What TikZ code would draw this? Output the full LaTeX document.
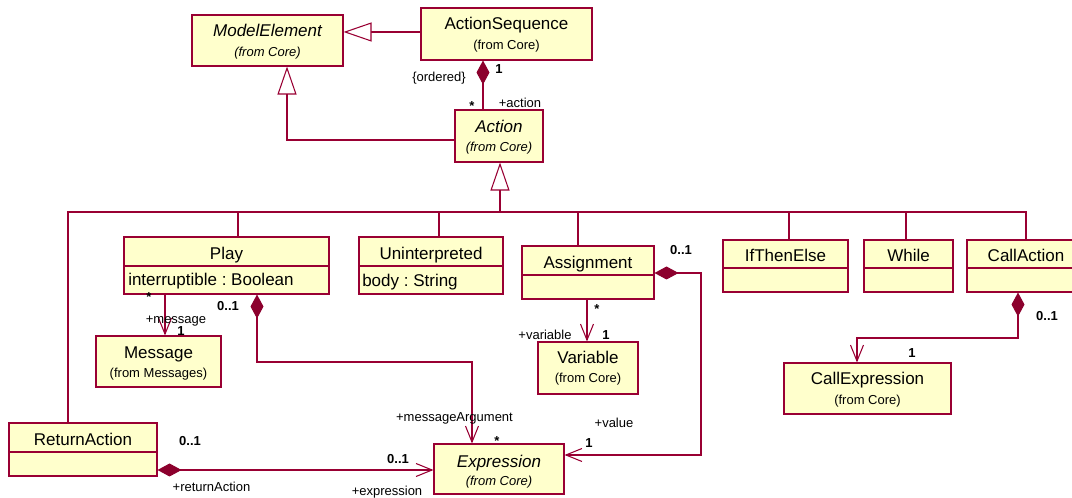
\documentclass[tikz,border=0pt]{standalone}
\usepackage{fontspec}
\setmainfont{Liberation Sans}
\usetikzlibrary{arrows.meta,fit}
\definecolor{umlred}{RGB}{153,0,51}
\definecolor{umlfill}{RGB}{255,255,204}
\definecolor{umldia}{RGB}{140,0,45}
\frenchspacing
\begin{document}
\begin{tikzpicture}[x=0.75pt,y=-0.75pt,
  cls/.style={draw=umlred, fill=umlfill, line width=0.8pt, inner sep=0pt},
  nm/.style={inner sep=0pt, text height=9.2pt, text depth=0pt, font=\fontsize{12.75}{15}\selectfont},
  nmi/.style={inner sep=0pt, text height=9.2pt, text depth=0pt, font=\fontsize{12.75}{15}\selectfont\itshape},
  fc/.style={inner sep=0pt, text height=7pt, text depth=0pt, font=\fontsize{9.75}{12}\selectfont},
  fci/.style={inner sep=0pt, text height=7pt, text depth=0pt, font=\fontsize{9.75}{12}\selectfont\itshape},
  lbl/.style={inner sep=0pt, text height=7pt, text depth=0pt, font=\fontsize{9.75}{12}\selectfont},
  mul/.style={inner sep=0pt, text height=7pt, text depth=0pt, font=\fontsize{9.75}{12}\selectfont\bfseries},
  conn/.style={draw=umlred, line width=0.8pt},
  gen/.style={conn, -{Triangle[open, length=21pt, width=14.25pt, fill=white]}},
  comp/.style={conn, {Diamond[length=18pt, width=9.75pt, color=umldia, fill=umldia]}-},
  nav/.style={conn, -{Straight Barb[length=12pt, width=9.75pt]}},
  compnav/.style={conn, {Diamond[length=18pt, width=9.75pt, color=umldia, fill=umldia]}-{Straight Barb[length=12pt, width=9.75pt]}},
  divl/.style={draw=umlred, line width=0.8pt}
]
\useasboundingbox (0,0) rectangle (1072,498);
\clip (0,0) rectangle (1072,498);

% ---------- classes ----------
\node[cls, fit={(192,15) (343,66)}] (modelelement) {};
\node[nmi] (modelelement-n) at (267.5,30) {ModelElement};
\node[fci] (modelelement-f) at (267.5,52) {(from Core)};

\node[cls, fit={(421,8) (592,60)}] (actionseq) {};
\node[nm] (actionseq-n) at (506.5,23) {ActionSequence};
\node[fc] (actionseq-f) at (506.5,45) {(from Core)};

\node[cls, fit={(455,110) (543,162)}] (action) {};
\node[nmi] (action-n) at (499,126) {Action};
\node[fci] (action-f) at (499,147) {(from Core)};

\node[cls, fit={(124,237) (329,294)}] (play) {};
\draw[divl] (play.west |- 0,266) -- (play.east |- 0,266);
\node[nm] (play-n) at (226.5,253) {Play};
\node[nm, anchor=west] (play-a) at (128,279) {interruptible : Boolean};

\node[cls, fit={(359,237) (503,294)}] (uninterp) {};
\draw[divl] (uninterp.west |- 0,266) -- (uninterp.east |- 0,266);
\node[nm] (uninterp-n) at (431,253) {Uninterpreted};
\node[nm, anchor=west] (uninterp-a) at (362,280) {body : String};

\node[cls, fit={(522,246) (654,299)}] (assign) {};
\draw[divl] (assign.west |- 0,275) -- (assign.east |- 0,275);
\node[nm] (assign-n) at (588,262) {Assignment};

\node[cls, fit={(723,240) (848,292)}] (ifthen) {};
\draw[divl] (ifthen.west |- 0,268) -- (ifthen.east |- 0,268);
\node[nm] (ifthen-n) at (785.5,255) {IfThenElse};

\node[cls, fit={(864,240) (953,292)}] (while) {};
\draw[divl] (while.west |- 0,268) -- (while.east |- 0,268);
\node[nm] (while-n) at (908.5,255) {While};

\node[cls, fit={(967,240) (1085,292)}] (callaction) {};
\draw[divl] (callaction.west |- 0,268) -- (callaction.east |- 0,268);
\node[nm] (callaction-n) at (1026,255) {CallAction};

\node[cls, fit={(96,336) (221,387)}] (message) {};
\node[nm] (message-n) at (158.5,352) {Message};
\node[fc] (message-f) at (158.5,373) {(from Messages)};

\node[cls, fit={(538,342) (638,394)}] (variable) {};
\node[nm] (variable-n) at (588,357) {Variable};
\node[fc] (variable-f) at (588,378) {(from Core)};

\node[cls, fit={(784,363) (951,414)}] (callexpr) {};
\node[nm] (callexpr-n) at (867.5,378) {CallExpression};
\node[fc] (callexpr-f) at (867.5,400) {(from Core)};

\node[cls, fit={(9,423) (157,476)}] (returnaction) {};
\draw[divl] (returnaction.west |- 0,452) -- (returnaction.east |- 0,452);
\node[nm] (returnaction-n) at (83,439) {ReturnAction};

\node[cls, fit={(434,444) (564,494)}] (expression) {};
\node[nmi] (expression-n) at (499,461) {Expression};
\node[fci] (expression-f) at (499,481) {(from Core)};

% ---------- connectors ----------
\draw[gen] (actionseq.west |- 0,32) -- (modelelement.east |- 0,32);
\draw[comp] (actionseq.south -| 483,0) -- (action.north -| 483,0);
\draw[gen] (action.west |- 0,140) -- (287,140) -- (modelelement.south -| 287,0);

\coordinate (bus) at (500,212);
\draw[gen] (bus) -- (action.south -| bus);
\draw[conn] (returnaction.north -| 68,0) -- (68,212) -- (1026,212) -- (callaction.north -| 1026,0);
\draw[conn] (238,212) -- (play.north -| 238,0);
\draw[conn] (439,212) -- (uninterp.north -| 439,0);
\draw[conn] (578,212) -- (assign.north -| 578,0);
\draw[conn] (789,212) -- (ifthen.north -| 789,0);
\draw[conn] (906,212) -- (while.north -| 906,0);

\draw[nav] (play.south -| 165,0) -- (message.north -| 165,0);
\draw[compnav] (play.south -| 257,0) -- (257,362) -- (472,362) -- (expression.north -| 472,0);
\draw[nav] (assign.south -| 587,0) -- (variable.north -| 587,0);
\draw[compnav] (assign.east |- 0,273) -- (701,273) -- (701,455) -- (expression.east |- 0,455);
\draw[compnav] (callaction.south -| 1018,0) -- (1018,338) -- (857,338) -- (callexpr.north -| 857,0);
\draw[compnav] (returnaction.east |- 0,470) -- (expression.west |- 0,470);

% ---------- labels ----------
\node[lbl] (l-ordered) at (439,77) {\{ordered\}};
\node[mul] (l-as1) at (499,69) {1};
\node[mul] (l-asstar) at (472,106) {*};
\node[lbl] (l-action) at (520,103) {+action};

\node[mul] (l-playstar) at (149,297) {*};
\node[lbl] (l-message) at (176,319) {+message};
\node[mul] (l-msg1) at (181,331) {1};
\node[mul] (l-play01) at (228,306) {0..1};
\node[lbl] (l-msgarg) at (454.5,417) {+messageArgument};
\node[mul] (l-exstar) at (497,441) {*};

\node[mul] (l-as01) at (681,250) {0..1};
\node[mul] (l-varstar) at (597,309) {*};
\node[lbl] (l-variable) at (545,335) {+variable};
\node[mul] (l-var1) at (606,335) {1};
\node[lbl] (l-value) at (614,423) {+value};
\node[mul] (l-val1) at (589,443) {1};

\node[mul] (l-ca01) at (1047,316) {0..1};
\node[mul] (l-ce1) at (912,353) {1};

\node[mul] (l-ra01) at (190,441) {0..1};
\node[lbl] (l-retact) at (211.5,487) {+returnAction};
\node[mul] (l-ex01) at (398,459) {0..1};
\node[lbl] (l-expr) at (387,491) {+expression};
\end{tikzpicture}
\end{document}
